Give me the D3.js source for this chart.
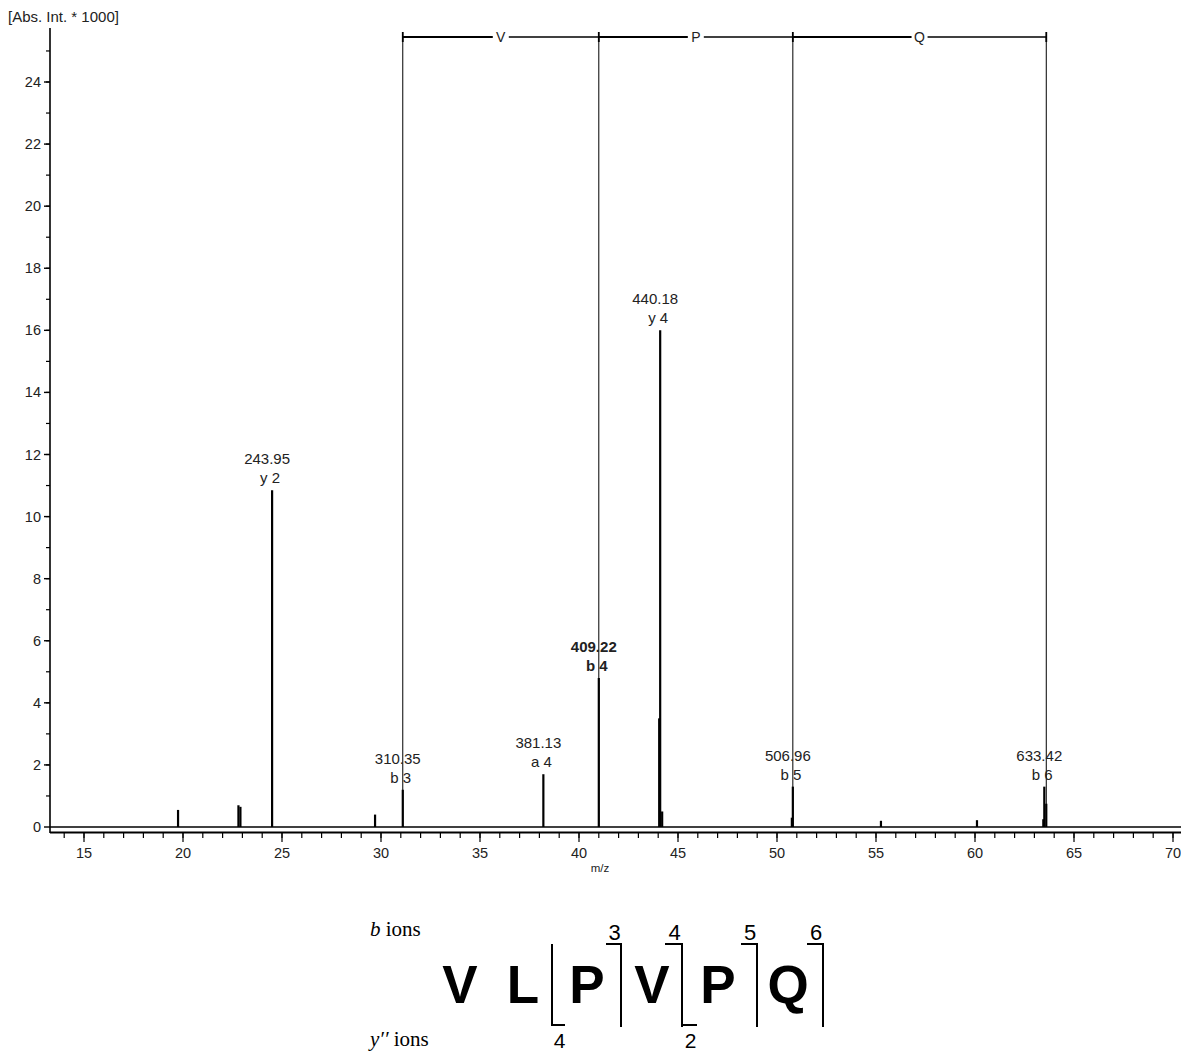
<!DOCTYPE html>
<html><head><meta charset="utf-8">
<script src="https://cdn.jsdelivr.net/npm/d3@7"></script>
<style>body{margin:0;background:#fff}svg{display:block}</style>
</head><body>
<svg id="c" width="1181" height="1053"></svg>
<script>
// Data (x axis in displayed units, intensity in Abs. Int. * 1000)
const peakPos = [19.75, 22.8, 22.9, 24.5, 29.7, 31.1, 38.2, 41.0, 44.05, 44.1, 44.2, 50.75, 50.8, 55.25, 60.1, 63.45, 63.5, 63.6];
const peakInt = [0.55, 0.7, 0.65, 10.85, 0.4, 1.2, 1.7, 4.8, 3.5, 16.0, 0.5, 0.3, 1.3, 0.2, 0.22, 0.25, 1.3, 0.75];
const labelPos = [24.5, 31.1, 38.2, 41.0, 44.1, 50.8, 63.5];
const labelInt = [10.85, 1.2, 1.7, 4.8, 16.0, 1.3, 1.3];
const labelMz = ["243.95", "310.35", "381.13", "409.22", "440.18", "506.96", "633.42"];
const labelIon = ["y 2", "b 3", "a 4", "b 4", "y 4", "b 5", "b 6"];
const labelBold = [false, false, false, true, false, false, false];
const seqMarks = [31.1, 41.0, 50.8, 63.6];
const seqResidues = ["V", "P", "Q"];
const xTicks = [15, 20, 25, 30, 35, 40, 45, 50, 55, 60, 65, 70];
const yTicks = [0, 2, 4, 6, 8, 10, 12, 14, 16, 18, 20, 22, 24];
const sequence = ["V", "L", "P", "V", "P", "Q"];

const svg = d3.select("#c");
const font = "'Liberation Sans', Arial, sans-serif";
const x = d3.scaleLinear().domain([15, 70]).range([84, 1173]);
const y = d3.scaleLinear().domain([0, 24]).range([827, 82]);
const xMin = x.invert(50), xMax = x.invert(1181);

// y axis
svg.append("line").attr("x1", 50).attr("x2", 50).attr("y1", 28).attr("y2", 833)
  .attr("stroke", "#000").attr("stroke-width", 1.6);
const yMinor = d3.range(1, 26, 1);
svg.append("g").selectAll("line").data(yMinor).join("line")
  .attr("x1", 46).attr("x2", 50).attr("y1", d => y(d)).attr("y2", d => y(d))
  .attr("stroke", "#000").attr("stroke-width", 1.2);
svg.append("g").selectAll("line").data(yTicks).join("line")
  .attr("x1", 44).attr("x2", 50).attr("y1", d => y(d)).attr("y2", d => y(d))
  .attr("stroke", "#000").attr("stroke-width", 1.4);
svg.append("g").selectAll("text").data(yTicks).join("text")
  .attr("x", 41).attr("y", d => y(d) + 5).attr("text-anchor", "end")
  .attr("font-family", font).attr("font-size", 14.5).attr("fill", "#222").text(d => d);
svg.append("text").attr("x", 8).attr("y", 22).attr("font-family", font)
  .attr("font-size", 15).attr("fill", "#222").text("[Abs. Int. * 1000]");

// baseline + x axis
svg.append("line").attr("x1", 50).attr("x2", 1181).attr("y1", y(0)).attr("y2", y(0))
  .attr("stroke", "#000").attr("stroke-width", 1.3);
svg.append("line").attr("x1", 50).attr("x2", 1181).attr("y1", 832.5).attr("y2", 832.5)
  .attr("stroke", "#000").attr("stroke-width", 1.8);
const xMinor = d3.range(Math.ceil(xMin), Math.floor(xMax) + 1, 1);
svg.append("g").selectAll("line").data(xMinor).join("line")
  .attr("x1", d => x(d)).attr("x2", d => x(d)).attr("y1", 833).attr("y2", 838)
  .attr("stroke", "#000").attr("stroke-width", 1.2);
svg.append("g").selectAll("line").data(xTicks).join("line")
  .attr("x1", d => x(d)).attr("x2", d => x(d)).attr("y1", 833).attr("y2", 842)
  .attr("stroke", "#000").attr("stroke-width", 1.2);
svg.append("g").selectAll("text").data(xTicks).join("text")
  .attr("x", d => x(d)).attr("y", 858).attr("text-anchor", "middle")
  .attr("font-family", font).attr("font-size", 14.5).attr("fill", "#222").text(d => d);
svg.append("text").attr("x", 600).attr("y", 872).attr("text-anchor", "middle")
  .attr("font-family", font).attr("font-size", 11.5).attr("fill", "#222").text("m/z");

// sequence annotation lines
const topY = 37;
svg.append("g").selectAll("line").data(seqMarks).join("line")
  .attr("x1", d => x(d)).attr("x2", d => x(d)).attr("y1", topY).attr("y2", y(0))
  .attr("stroke", "#000").attr("stroke-width", 1);
svg.append("g").selectAll("line").data(seqMarks).join("line")
  .attr("x1", d => x(d)).attr("x2", d => x(d)).attr("y1", topY - 5).attr("y2", topY + 5)
  .attr("stroke", "#000").attr("stroke-width", 1.8);
seqResidues.forEach((r, i) => {
  const a = x(seqMarks[i]), b = x(seqMarks[i + 1]), m = (a + b) / 2;
  svg.append("line").attr("x1", a).attr("x2", m - 8).attr("y1", topY).attr("y2", topY)
    .attr("stroke", "#000").attr("stroke-width", 2);
  svg.append("line").attr("x1", m + 8).attr("x2", b).attr("y1", topY).attr("y2", topY)
    .attr("stroke", "#000").attr("stroke-width", 1.3);
  svg.append("text").attr("x", m).attr("y", topY + 5).attr("text-anchor", "middle")
    .attr("font-family", font).attr("font-size", 14).attr("fill", "#222").text(r);
});

// peaks
svg.append("g").selectAll("line").data(peakPos).join("line")
  .attr("x1", d => x(d)).attr("x2", d => x(d)).attr("y1", y(0)).attr("y2", (d, i) => y(peakInt[i]))
  .attr("stroke", "#000").attr("stroke-width", 2.2);

// peak labels
labelPos.forEach((p, i) => {
  const g = svg.append("g").attr("font-family", font).attr("font-size", 15)
    .attr("fill", "#222").attr("font-weight", labelBold[i] ? "bold" : "normal");
  const ty = y(labelInt[i]);
  g.append("text").attr("x", x(p) - 5).attr("y", ty - 26).attr("text-anchor", "middle").text(labelMz[i]);
  g.append("text").attr("x", x(p) - 2).attr("y", ty - 7).attr("text-anchor", "middle").text(labelIon[i]);
});

// sequence fragment diagram
const seqX = [460, 523, 587, 652, 718, 788];
svg.append("g").selectAll("text").data(sequence).join("text")
  .attr("x", (d, i) => seqX[i]).attr("y", 1003).attr("text-anchor", "middle")
  .attr("font-family", font).attr("font-weight", "bold").attr("font-size", 53)
  .attr("fill", "#000").text(d => d);
const serif = "'Liberation Serif', 'Times New Roman', serif";
const bt = svg.append("text").attr("x", 370).attr("y", 936).attr("font-family", serif).attr("font-size", 21);
bt.append("tspan").attr("font-style", "italic").text("b");
bt.append("tspan").text(" ions");
const yt = svg.append("text").attr("x", 370).attr("y", 1046).attr("font-family", serif).attr("font-size", 21);
yt.append("tspan").attr("font-style", "italic").text("y′′");
yt.append("tspan").text(" ions");

const br = svg.append("g").attr("stroke", "#000").attr("stroke-width", 2).attr("fill", "none");
// b brackets (top)
const bBr = [[606, 621, "3"], [665, 682, "4"], [741, 757, "5"], [807, 823, "6"]];
bBr.forEach(([a, b, n]) => {
  br.append("path").attr("d", `M${a},944 H${b} V1027`);
  svg.append("text").attr("x", (a + b) / 2 + 1).attr("y", 940).attr("text-anchor", "middle")
    .attr("font-family", font).attr("font-size", 22).text(n);
});
// y brackets (bottom)
const yBr = [[552, 565, 944, "4"], [682, 697, 944, "2"]];
yBr.forEach(([a, b, t, n]) => {
  br.append("path").attr("d", `M${a},${t} V1025 H${b}`);
  svg.append("text").attr("x", (a + b) / 2 + 1).attr("y", 1048).attr("text-anchor", "middle")
    .attr("font-family", font).attr("font-size", 21).text(n);
});
</script>
</body></html>
